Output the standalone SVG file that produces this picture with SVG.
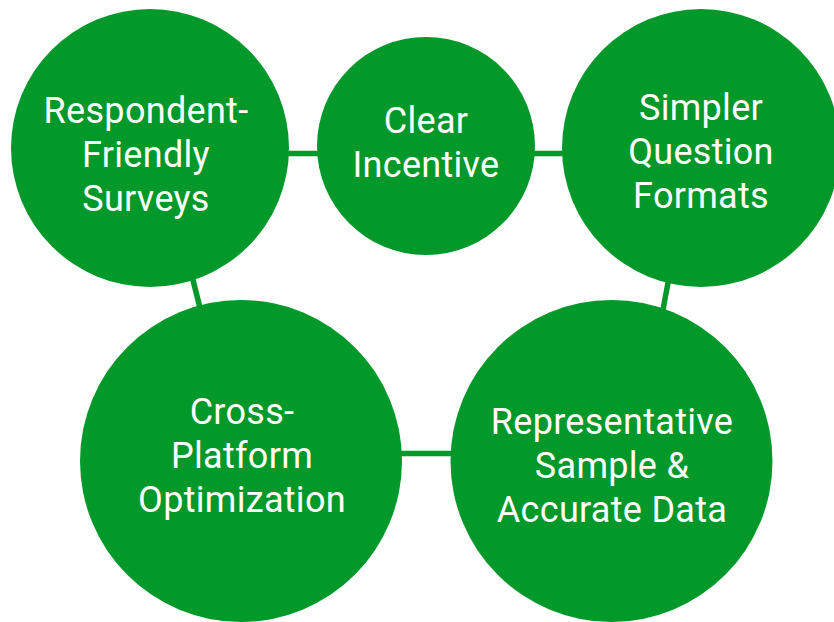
<svg xmlns="http://www.w3.org/2000/svg" width="834" height="622" viewBox="0 0 834 622">
<style>
.n{fill:#03982A}
.c line{stroke:#03982A;stroke-width:5.5}
text{fill:#fff;font-family:Roboto,"Liberation Sans",sans-serif;font-size:36px;letter-spacing:0.3px;text-anchor:middle}
</style>
<rect width="834" height="622" fill="#fff"/>
<g class="c" id="connectors">
<line x1="280" y1="153.5" x2="330" y2="153.5"/>
<line x1="525" y1="153.5" x2="572" y2="153.5"/>
<line x1="191" y1="272" x2="201" y2="312"/>
<line x1="670" y1="272" x2="662" y2="315"/>
<line x1="395" y1="453.5" x2="460" y2="453.5"/>
</g>
<g id="n1"><circle class="n" cx="150" cy="148" r="139"/>
<text x="146" y="123">Respondent-</text><text x="146" y="167">Friendly</text><text x="146" y="211">Surveys</text></g>
<g id="n2"><circle class="n" cx="426" cy="146" r="109"/>
<text x="426" y="133">Clear</text><text x="426" y="177">Incentive</text></g>
<g id="n3"><circle class="n" cx="701" cy="148" r="139"/>
<text x="701" y="120">Simpler</text><text x="701" y="164">Question</text><text x="701" y="208">Formats</text></g>
<g id="n4"><circle class="n" cx="241" cy="461" r="161"/>
<text x="242" y="424">Cross-</text><text x="242" y="468">Platform</text><text x="242" y="512">Optimization</text></g>
<g id="n5"><circle class="n" cx="611.5" cy="461" r="161"/>
<text x="612" y="434">Representative</text><text x="612" y="478">Sample &amp;</text><text x="612" y="522">Accurate Data</text></g>
</svg>
